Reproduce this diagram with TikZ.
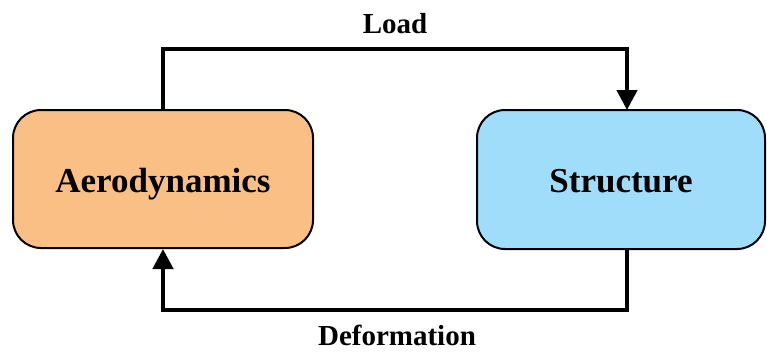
\documentclass[tikz,border=0pt]{standalone}
\usepackage{fontspec}
\setmainfont{Liberation Serif}
\usetikzlibrary{arrows.meta}
\definecolor{aerofill}{RGB}{250,191,132}
\definecolor{structfill}{RGB}{160,221,250}
\tikzset{
  block/.style={draw=black, line width=2pt, rounded corners=28pt, inner sep=0pt,
    text height=26pt, text depth=0pt,
    font=\fontsize{35}{40}\selectfont\bfseries},
  conn/.style={line width=4.5pt, -{Triangle[width=20pt,length=20pt]}},
  lbl/.style={font=\fontsize{29}{34}\selectfont\bfseries, anchor=base, inner sep=0pt},
}
\begin{document}
\begin{tikzpicture}[x=1pt,y=1pt]
  \useasboundingbox (0,0) rectangle (767,-351);
  % the two solver blocks
  \node[block, fill=aerofill, minimum width=300pt, minimum height=138pt] (aero) at (163,-179) {Aerodynamics};
  \node[block, fill=structfill, minimum width=288pt, minimum height=139pt] (struct) at (621,-179.5) {Structure};
  % attachment points on the structure block and routing levels
  \coordinate (stop) at (627,-110);
  \coordinate (sbot) at (627,-249);
  \coordinate (toprow) at (395,-49);
  \coordinate (botrow) at (395,-310);
  % coupling loops
  \draw[conn] (aero.north) |- (toprow) -| (stop);
  \draw[conn] (sbot) |- (botrow) -| (aero.south);
  % labels
  \node[lbl] (load) at (395,-33) {Load};
  \node[lbl] (deform) at (397,-345) {Deformation};
\end{tikzpicture}
\end{document}
